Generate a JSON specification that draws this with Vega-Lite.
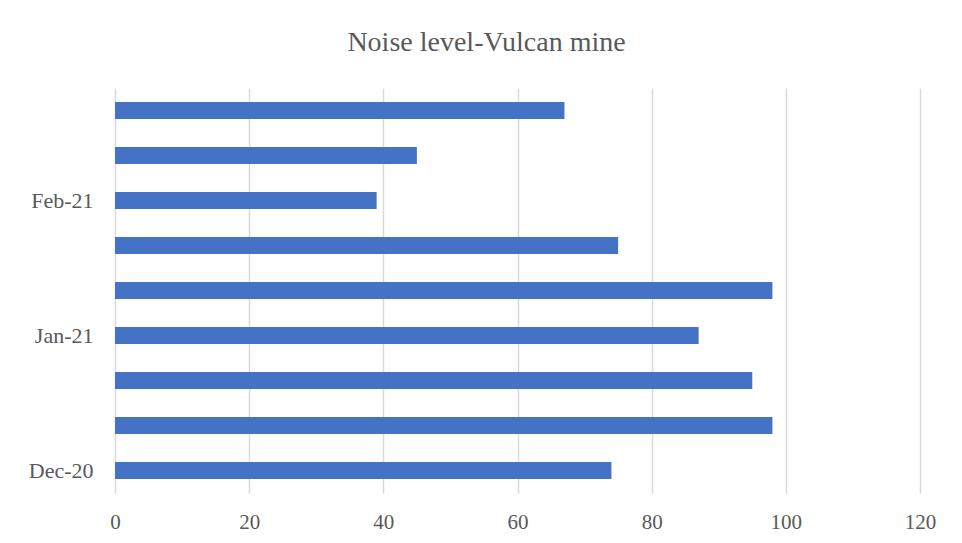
{
  "$schema": "https://vega.github.io/schema/vega-lite/v6.json",
  "autosize": "none",
  "width": 805,
  "height": 405,
  "padding": {"left": 115, "top": 88, "right": 42, "bottom": 50},
  "background": "white",
  "title": {
    "text": "Noise level-Vulcan mine",
    "font": "Liberation Serif",
    "fontSize": 28,
    "fontWeight": "normal",
    "color": "#595959",
    "anchor": "middle",
    "dx": -31,
    "baseline": "alphabetic",
    "offset": 9
  },
  "data": {
    "values": [
      {"week": "Dec-20", "noise": 74},
      {"week": "Dec-20 (2)", "noise": 98},
      {"week": "Dec-20 (3)", "noise": 95},
      {"week": "Jan-21", "noise": 87},
      {"week": "Jan-21 (2)", "noise": 98},
      {"week": "Jan-21 (3)", "noise": 75},
      {"week": "Feb-21", "noise": 39},
      {"week": "Feb-21 (2)", "noise": 45},
      {"week": "Feb-21 (3)", "noise": 67}
    ]
  },
  "mark": {"type": "bar", "color": "#4472C4"},
  "encoding": {
    "y": {
      "field": "week",
      "type": "ordinal",
      "sort": ["Feb-21 (3)", "Feb-21 (2)", "Feb-21", "Jan-21 (3)", "Jan-21 (2)", "Jan-21", "Dec-20 (3)", "Dec-20 (2)", "Dec-20"],
      "scale": {"paddingInner": 0.62, "paddingOuter": 0.31},
      "axis": {
        "title": null,
        "domain": false,
        "ticks": false,
        "grid": false,
        "labelPadding": 22,
        "labelFont": "Liberation Serif",
        "labelFontSize": 22,
        "labelColor": "#595959",
        "labelExpr": "length(datum.value) > 6 ? '' : datum.value"
      }
    },
    "x": {
      "field": "noise",
      "type": "quantitative",
      "scale": {"domain": [0, 120], "nice": false},
      "axis": {
        "title": null,
        "values": [0, 20, 40, 60, 80, 100, 120],
        "domain": false,
        "ticks": false,
        "grid": true,
        "gridColor": "#d9d9d9",
        "gridWidth": 1.5,
        "labelFlush": false,
        "labelPadding": 18,
        "labelFont": "Liberation Serif",
        "labelFontSize": 21,
        "labelColor": "#595959"
      }
    }
  },
  "config": {"view": {"stroke": null}}
}
